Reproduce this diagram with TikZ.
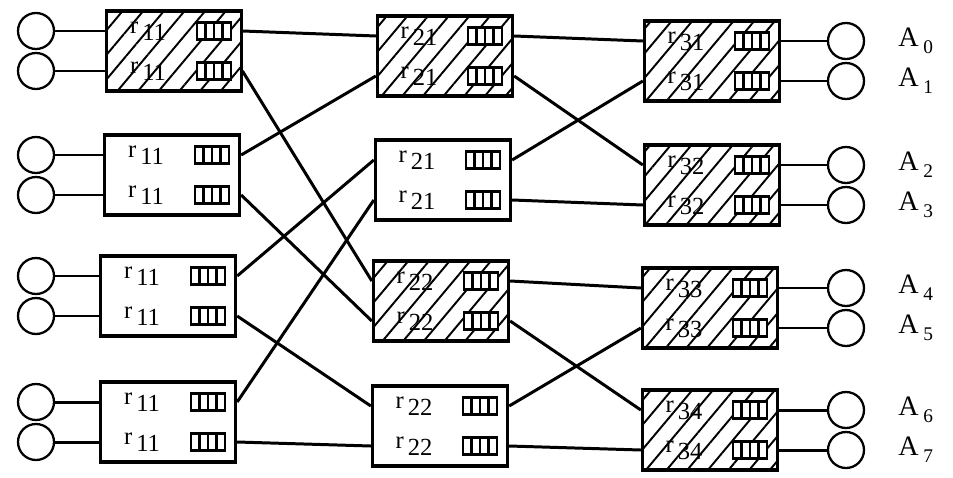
\documentclass[tikz,border=0pt]{standalone}
\usepackage{fontspec}
\setmainfont{Liberation Serif}
\usetikzlibrary{patterns.meta}

\begin{document}
\begin{tikzpicture}[x=0.2mm,y=-0.2mm]
\tikzset{
  swbox/.style={draw, line width=1.9pt, minimum width=27mm, minimum height=16mm, inner sep=0},
  plain/.style={},
  hatched/.style={pattern={Lines[angle=50,distance=9pt,line width=1.1pt]}},
  bufname/.style={inner sep=0, font=\fontsize{14}{16}\selectfont},
  queue/.style={draw, fill=white, line width=1.6pt, minimum width=6.8mm, minimum height=3.3mm, inner sep=0,
    path picture={\foreach \k in {1,2,3}
      \draw[line width=1.4pt] ([xshift=\k*1.7mm]path picture bounding box.south west)
        -- ([xshift=\k*1.7mm]path picture bounding box.north west);}},
  port/.style={draw, circle, line width=1.3pt, minimum size=7.2mm, inner sep=0},
  link/.style={line width=1.7pt},
  outname/.style={anchor=west, inner sep=0, font=\fontsize{16}{18}\selectfont}
}
\useasboundingbox (0,0) rectangle (953,477);
\coordinate (lft) at (36,0);
\coordinate (rgt) at (846,0);
\coordinate (lab) at (898,0);

% switching elements of the three stages
\foreach \n/\x/\y/\k/\st in {s11/174/51/11/hatched, s12/172/175/11/plain,
    s13/168/296/11/plain, s14/168/422/11/plain,
    s21/445/56/21/hatched, s22/443/180/21/plain,
    s23/441/301/22/hatched, s24/440/426/22/plain,
    s31/712/61/31/hatched, s32/712/185/32/hatched,
    s33/710/308/33/hatched, s34/710/430/34/hatched}{
  \node[swbox,\st] (\n) at (\x,\y) {};
  \node[bufname] (\n ra) at (\x-26,\y-20) {r\,\raisebox{-4pt}{\k}};
  \node[bufname] (\n rb) at (\x-26,\y+20) {r\,\raisebox{-4pt}{\k}};
  \node[queue] (\n qa) at (\x+40,\y-20) {};
  \node[queue] (\n qb) at (\x+40,\y+20) {};
}

% inputs
\foreach \n in {s11,s12,s13,s14}{
  \node[port] (\n ia) at (\n qa -| lft) {};
  \node[port] (\n ib) at (\n qb -| lft) {};
  \draw[link] (\n ia) -- (\n ia -| \n.west);
  \draw[link] (\n ib) -- (\n ib -| \n.west);
}

% outputs A0..A7
\foreach \n/\i/\j in {s31/0/1, s32/2/3, s33/4/5, s34/6/7}{
  \node[port] (\n oa) at (\n qa -| rgt) {};
  \node[port] (\n ob) at (\n qb -| rgt) {};
  \draw[link] (\n qa -| \n.east) -- (\n oa);
  \draw[link] (\n qb -| \n.east) -- (\n ob);
  \node[outname] (a\i) at (\n qa -| lab) {A\,\raisebox{-4pt}{\fontsize{11}{12}\selectfont\i}};
  \node[outname] (a\j) at (\n qb -| lab) {A\,\raisebox{-4pt}{\fontsize{11}{12}\selectfont\j}};
}

% links between stages
\foreach \src/\sp/\dst/\dp in {s11/qa/s21/qa, s11/qb/s23/qa, s12/qa/s21/qb, s12/qb/s23/qb,
    s13/qa/s22/qa, s13/qb/s24/qa, s14/qa/s22/qb, s14/qb/s24/qb,
    s21/qa/s31/qa, s21/qb/s32/qa, s22/qa/s31/qb, s22/qb/s32/qb,
    s23/qa/s33/qa, s23/qb/s34/qa, s24/qa/s33/qb, s24/qb/s34/qb}
  \draw[link] (\src\sp -| \src.east) -- (\dst\dp -| \dst.west);
\end{tikzpicture}
\end{document}
